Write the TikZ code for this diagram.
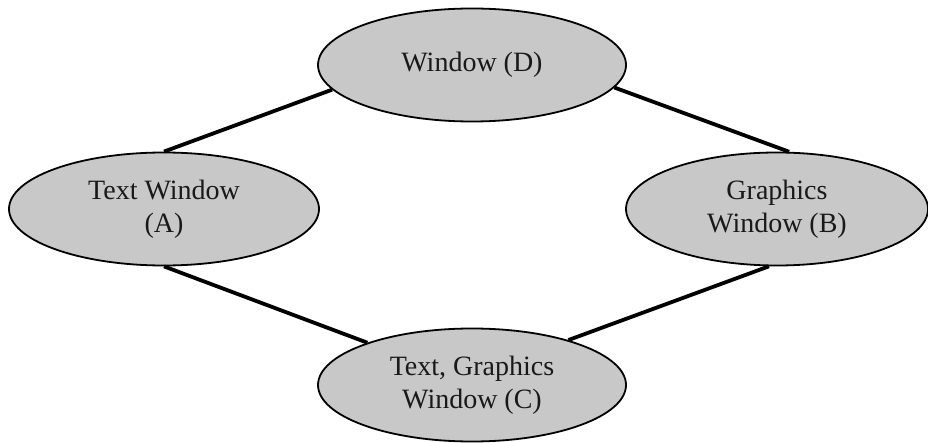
\documentclass[tikz,border=0pt]{standalone}
\usepackage{fontspec}
\setmainfont{Liberation Serif}
\usetikzlibrary{shapes.geometric}
\definecolor{ellfill}{RGB}{200,200,200}
\definecolor{txt}{RGB}{25,25,25}
\begin{document}
\begin{tikzpicture}[x=1pt,y=-1pt,
  cls/.style={ellipse,draw=black,line width=1.8pt,fill=ellfill,inner sep=0pt,
    minimum width=308pt,minimum height=113pt,align=center,
    font=\fontsize{28}{33}\selectfont,text=txt},
  link/.style={line width=3.8pt,draw=black}]
\useasboundingbox (0,0) rectangle (928,443);
\node[cls] (D) at (472,65) {Window (D)};
\node[cls,minimum width=310pt] (A) at (164,209) {Text Window\\(A)};
\node[cls,minimum width=302pt] (B) at (777,209) {Graphics\\Window (B)};
\node[cls] (C) at (472,385) {Text, Graphics\\Window (C)};
\draw[link] (A.north) -- (D.190);
\draw[link] (B.78) -- (D.351);
\draw[link] (A.south) -- (C.158);
\draw[link] (B.262) -- (C.25);
\end{tikzpicture}
\end{document}
